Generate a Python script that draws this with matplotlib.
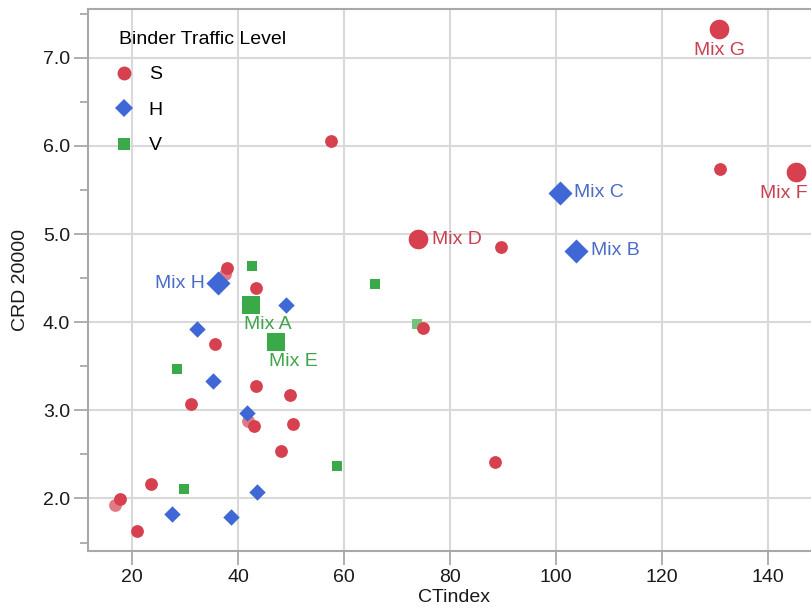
import matplotlib
matplotlib.use("Agg")
import matplotlib.pyplot as plt
from matplotlib.ticker import MultipleLocator
from matplotlib.lines import Line2D

plt.rcParams['font.family'] = ['Liberation Sans', 'DejaVu Sans']

# Binder traffic level S (circles)
s_x = [57.5, 37.9, 43.4, 35.6, 43.4, 49.9, 31.1, 43.1, 50.3, 48.1, 23.6, 17.7, 20.9,
       88.5, 75.0, 89.7, 131.0]
s_y = [6.06, 4.61, 4.39, 3.75, 3.28, 3.17, 3.07, 2.82, 2.85, 2.54, 2.16, 1.99, 1.63,
       2.41, 3.93, 4.85, 5.74]
s_faded_x = [37.5, 41.8, 16.8]
s_faded_y = [4.55, 2.88, 1.93]

# Binder traffic level H (diamonds)
h_x = [49.1, 32.2, 35.3, 41.7, 43.6, 27.6, 38.7]
h_y = [4.19, 3.92, 3.33, 2.97, 2.07, 1.82, 1.79]

# Binder traffic level V (squares)
v_x = [42.7, 65.8, 28.4, 29.9, 58.7]
v_y = [4.64, 4.43, 3.47, 2.11, 2.37]
v_faded_x = [73.8]
v_faded_y = [3.98]

# Named mixes (larger markers with labels)
mix_names = ["Mix G", "Mix F", "Mix D", "Mix C", "Mix B", "Mix H", "Mix A", "Mix E"]
mix_level = ["S", "S", "S", "H", "H", "H", "V", "V"]
mix_x = [130.8, 145.2, 74.0, 100.8, 103.7, 36.3, 42.4, 47.2]
mix_y = [7.33, 5.70, 4.94, 5.47, 4.81, 4.44, 4.20, 3.78]

RED = "#d6404f"
BLUE = "#3f68d6"
GREEN = "#3aaa48"
colors = {"S": RED, "H": BLUE, "V": GREEN}
markers = {"S": "o", "H": "D", "V": "s"}
small_size = {"S": 85, "H": 70, "V": 60}
big_size = {"S": 200, "H": 150, "V": 150}
label_colors = {"S": "#c9404f", "H": "#4a6cc8", "V": "#3fa54a"}

W, H = 812, 616
fig = plt.figure(figsize=(W / 100, H / 100), dpi=100)
left, right, bottom, top = 88, 821, 551, 9
ax = fig.add_axes([left / W, (H - bottom) / H, (right - left) / W, (bottom - top) / H])

ax.set_xlim(11.7, 150.0)
ax.set_ylim(1.404, 7.553)

ax.xaxis.set_major_locator(MultipleLocator(20))
ax.yaxis.set_major_locator(MultipleLocator(1.0))
ax.yaxis.set_minor_locator(MultipleLocator(0.5))
ax.yaxis.set_major_formatter(matplotlib.ticker.FormatStrFormatter('%.1f'))

ax.grid(True, which='major', color='#d9d9d9', linewidth=1.5)
ax.set_axisbelow(True)

for side in ['left', 'bottom', 'top', 'right']:
    ax.spines[side].set_color('#a8a8a8')
    ax.spines[side].set_linewidth(1.5)

ax.tick_params(axis='both', which='major', length=10, width=1.3, color='#a8a8a8',
               labelsize=14, labelcolor='#1a1a1a', pad=3)
ax.tick_params(axis='y', which='minor', length=6, width=1.3, color='#a8a8a8')

ax.set_xlabel("CTindex", fontsize=14, color='#1a1a1a', labelpad=2)
ax.set_ylabel("CRD 20000", fontsize=14, color='#1a1a1a', labelpad=10)

# faded markers first, underneath
ax.scatter(s_faded_x, s_faded_y, s=small_size["S"], marker='o', color="#e27984", linewidths=0, zorder=2)
ax.scatter(v_faded_x, v_faded_y, s=small_size["V"], marker='s', color="#72c47a", linewidths=0, zorder=2)

ax.scatter(s_x, s_y, s=small_size["S"], marker='o', color=RED, linewidths=0, zorder=3)
ax.scatter(h_x, h_y, s=small_size["H"], marker='D', color=BLUE, linewidths=0, zorder=3)
ax.scatter(v_x, v_y, s=small_size["V"], marker='s', color=GREEN, linewidths=0, zorder=3)

for lvl in ["S", "H", "V"]:
    xs = [x for x, l in zip(mix_x, mix_level) if l == lvl]
    ys = [y for y, l in zip(mix_y, mix_level) if l == lvl]
    ax.scatter(xs, ys, s=big_size[lvl], marker=markers[lvl], color=colors[lvl],
               linewidths=0, zorder=4)

# label placement: offset in pixels and alignment
label_pos = {
    "Mix G": ((0, -13), 'center', 'top'),
    "Mix F": ((-12, -13), 'center', 'top'),
    "Mix D": ((14, 0), 'left', 'center'),
    "Mix C": ((14, 0), 'left', 'center'),
    "Mix B": ((15, 0), 'left', 'center'),
    "Mix H": ((-14, 0), 'right', 'center'),
    "Mix A": ((17, -11), 'center', 'top'),
    "Mix E": ((17, -11), 'center', 'top'),
}
for name, lvl, x, y in zip(mix_names, mix_level, mix_x, mix_y):
    off, ha, va = label_pos[name]
    ax.annotate(name, (x, y), xytext=off, textcoords='offset pixels',
                ha=ha, va=va, fontsize=14, color=label_colors[lvl], zorder=5,
                annotation_clip=False)

handles = [
    Line2D([], [], linestyle='none', marker='o', markersize=10, color=RED, markeredgewidth=0),
    Line2D([], [], linestyle='none', marker='D', markersize=9, color=BLUE, markeredgewidth=0),
    Line2D([], [], linestyle='none', marker='s', markersize=9, color=GREEN, markeredgewidth=0),
]
leg = ax.legend(handles, ["S", "H", "V"], title="Binder Traffic Level", loc='upper left',
                bbox_to_anchor=(0.031, 0.974), frameon=False, fontsize=14,
                title_fontsize=14, handletextpad=0.95, labelspacing=0.92,
                handlelength=0.6, borderaxespad=0)
leg._legend_box.align = "left"

fig.savefig("out.png", dpi=100)
